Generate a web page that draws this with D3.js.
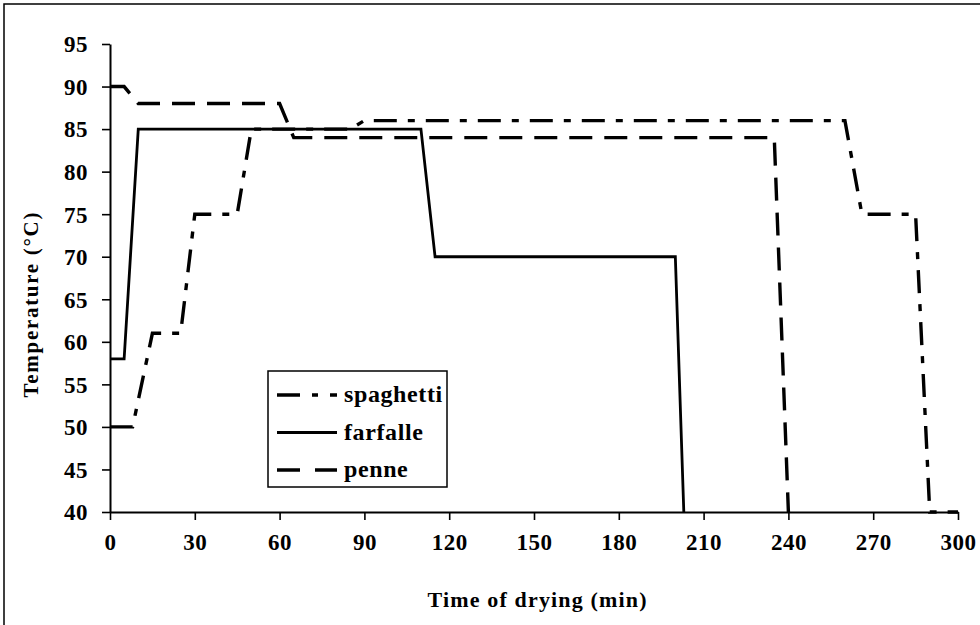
<!DOCTYPE html>
<html>
<head>
<meta charset="utf-8">
<script src="https://cdn.jsdelivr.net/npm/d3@7"></script>
<style>
  body { margin: 0; background: #fff; }
  svg text { font-family: "Liberation Serif", "Times New Roman", Times, serif; font-weight: bold; fill: #000; }
</style>
</head>
<body>
<div id="chart"></div>
<script>
// temperature profiles: [time (min), temperature (°C)]
const spaghetti = [[0,50],[8,50],[15,61],[25,61],[30,75],[45,75],[50,85],[85,85],[90,86],[260,86],[266,75],[285,75],[290,40],[300,40]];
const farfalle = [[0,58],[5,58],[10,85],[110,85],[115,70],[200,70],[203,40]];
const penne = [[0,90],[5,90],[10,88],[60,88],[65,84],[235,84],[240,40]];

const xTicks = [0,30,60,90,120,150,180,210,240,270,300];
const yTicks = [40,45,50,55,60,65,70,75,80,85,90,95];

const seriesNames = ["spaghetti","farfalle","penne"];
const dashes = {spaghetti: "23,11,7,11", farfalle: null, penne: "23,12"};
const widths = {spaghetti: 3.4, farfalle: 2.8, penne: 3.4};

const W = 980, H = 625;
const svg = d3.select("#chart").append("svg")
    .attr("width", W)
    .attr("height", H);

// outer frame of the chart area
svg.append("rect")
    .attr("x", 4).attr("y", 4)
    .attr("width", 1000).attr("height", 640)
    .attr("fill", "none")
    .attr("stroke", "#000")
    .attr("stroke-width", 1.5);

const x = d3.scaleLinear().domain([0,300]).range([110,958]);
const y = d3.scaleLinear().domain([40,95]).range([512,44]);

// axes
const xAxis = svg.append("g")
    .attr("transform", "translate(0," + y(40) + ")")
    .call(d3.axisBottom(x).tickValues(xTicks).tickSize(8).tickPadding(14).tickSizeOuter(0));
const yAxis = svg.append("g")
    .attr("transform", "translate(" + x(0) + ",0)")
    .call(d3.axisLeft(y).tickValues(yTicks).tickSize(8).tickPadding(14).tickSizeOuter(0));

[xAxis, yAxis].forEach(g => {
  g.attr("font-family", null);
  g.select(".domain").attr("stroke", "#000").attr("stroke-width", 2);
  g.selectAll(".tick line").attr("stroke", "#000").attr("stroke-width", 1.6);
  g.selectAll("text")
    .style("font-family", '"Liberation Serif", "Times New Roman", serif')
    .style("font-weight", "bold")
    .style("font-size", "23px")
    .style("letter-spacing", "0.5px")
    .attr("fill", "#000");
});
yAxis.selectAll("text").attr("dy", "0.34em");
xAxis.selectAll("text").attr("dy", "0.71em");

// the three curves
const line = d3.line().x(d => x(d[0])).y(d => y(d[1]));
const data = {spaghetti, farfalle, penne};
seriesNames.forEach(name => {
  svg.append("path")
    .datum(data[name])
    .attr("d", line)
    .attr("fill", "none")
    .attr("stroke", "#000")
    .attr("stroke-width", widths[name])
    .attr("stroke-dasharray", dashes[name])
    .attr("stroke-linejoin", "miter");
});

// axis titles
svg.append("text")
    .attr("x", 537).attr("y", 607)
    .attr("text-anchor", "middle")
    .attr("font-size", "22px")
    .attr("textLength", 219)
    .text("Time of drying (min)");

svg.append("text")
    .attr("transform", "translate(38,305) rotate(-90)")
    .attr("text-anchor", "middle")
    .attr("font-size", "21px")
    .attr("textLength", 185)
    .text("Temperature (°C)");

// legend
const legend = svg.append("g");
legend.append("rect")
    .attr("x", 268).attr("y", 371)
    .attr("width", 179).attr("height", 116)
    .attr("fill", "#fff")
    .attr("stroke", "#000")
    .attr("stroke-width", 1.5);

const legendY = d3.scalePoint().domain(seriesNames).range([395, 470]);
seriesNames.forEach(name => {
  legend.append("line")
    .attr("x1", 277).attr("x2", 337)
    .attr("y1", legendY(name)).attr("y2", legendY(name))
    .attr("stroke", "#000")
    .attr("stroke-width", widths[name])
    .attr("stroke-dasharray", name === "spaghetti" ? "23,12,6,12" : name === "penne" ? "23,15" : null);
  legend.append("text")
    .attr("x", 344).attr("y", legendY(name) + 7)
    .attr("font-size", "24px")
    .attr("letter-spacing", "0.6px")
    .text(name);
});
</script>
</body>
</html>
